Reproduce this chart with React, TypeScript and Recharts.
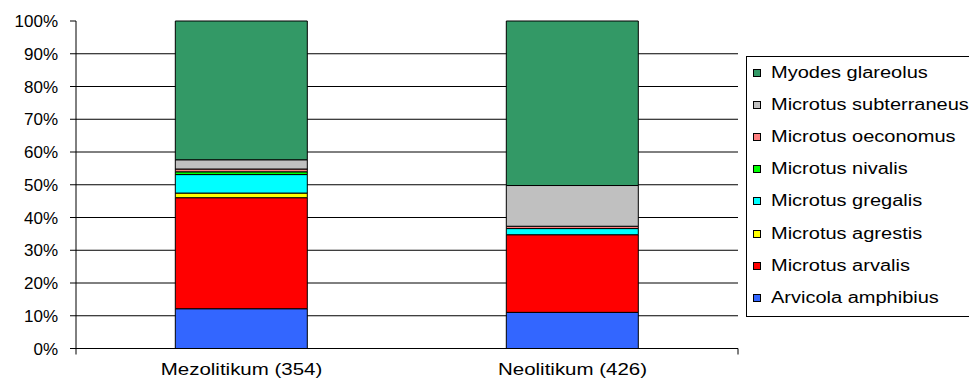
import {
  BarChart,
  Bar,
  XAxis,
  YAxis,
  CartesianGrid,
  ReferenceArea,
} from "recharts";

// Vole remains per period (counts); the chart shows each species' share.
const periods = ["Mezolitikum (354)", "Neolitikum (426)"];
const arvicolaAmphibius = [43, 47];
const microtusArvalis = [120, 101];
const microtusAgrestis = [5, 0];
const microtusGregalis = [20, 8];
const microtusNivalis = [3, 0];
const microtusOeconomus = [3, 3];
const microtusSubterraneus = [10, 53];
const myodesGlareolus = [150, 214];

const yTicks = [0, 0.1, 0.2, 0.3, 0.4, 0.5, 0.6, 0.7, 0.8, 0.9, 1];

// bottom of the stack first
const SERIES = [
  { key: "arvicola", name: "Arvicola amphibius", color: "#3366FF", values: arvicolaAmphibius },
  { key: "arvalis", name: "Microtus arvalis", color: "#FF0000", values: microtusArvalis },
  { key: "agrestis", name: "Microtus agrestis", color: "#FFFF00", values: microtusAgrestis },
  { key: "gregalis", name: "Microtus gregalis", color: "#00FFFF", values: microtusGregalis },
  { key: "nivalis", name: "Microtus nivalis", color: "#00FF00", values: microtusNivalis },
  { key: "oeconomus", name: "Microtus oeconomus", color: "#FF8080", values: microtusOeconomus },
  { key: "subterraneus", name: "Microtus subterraneus", color: "#C0C0C0", values: microtusSubterraneus },
  { key: "myodes", name: "Myodes glareolus", color: "#339966", values: myodesGlareolus },
];

const data = periods.map((period, i) => {
  const row: Record<string, string | number> = { period };
  SERIES.forEach((s) => {
    row[s.key] = s.values[i];
  });
  return row;
});

const FONT = "'Liberation Sans', Arial, sans-serif";

// axis ids: "a" carries the between-category tick marks, "b" the labels
const FRAME_AXIS = "a";
const CAT_AXIS = "b";

function CategoryTick({ x, y, payload }: any) {
  return (
    <text
      transform={`translate(${x},${y}) scale(1.28,1)`}
      textAnchor="middle"
      dy="0.71em"
      fontSize={16}
      fill="#000"
    >
      {payload.value}
    </text>
  );
}

function SpeciesLegend() {
  const items = [...SERIES].reverse();
  return (
    <div
      style={{
        position: "absolute",
        left: 738,
        top: 48,
        width: 230,
        height: 261,
        border: "1px solid #000",
        boxSizing: "border-box",
        background: "#fff",
      }}
    >
      {items.map((s, i) => (
        <div
          key={s.key}
          style={{
            position: "absolute",
            left: 6,
            top: i * 32.1,
            height: 32,
            display: "flex",
            alignItems: "center",
            whiteSpace: "nowrap",
          }}
        >
          <span
            style={{
              width: 8,
              height: 8,
              border: "1px solid #000",
              background: s.color,
              boxSizing: "border-box",
              display: "inline-block",
            }}
          />
          <span
            style={{
              marginLeft: 10,
              fontSize: 16,
              color: "#000",
              transform: "scaleX(1.25)",
              transformOrigin: "left center",
              display: "inline-block",
            }}
          >
            {s.name}
          </span>
        </div>
      ))}
    </div>
  );
}

export default function App() {
  return (
    <div style={{ position: "relative", width: 969, height: 379, fontFamily: FONT }}>
      <BarChart
        width={969}
        height={379}
        data={data}
        stackOffset="expand"
        barCategoryGap="30%"
        margin={{ top: 13, right: 239, bottom: 0, left: 0 }}
      >
        <CartesianGrid
          xAxisId={FRAME_AXIS}
          vertical={false}
          stroke="#000"
          horizontalValues={yTicks.filter((v) => v < 1)}
        />
        <ReferenceArea
          xAxisId={FRAME_AXIS}
          x1={0}
          x2={2}
          y1={0}
          y2={1}
          fill="none"
          stroke="#808080"
          fillOpacity={0}
        />
        <XAxis
          xAxisId={CAT_AXIS}
          dataKey="period"
          height={31.5}
          axisLine={false}
          tickLine={false}
          tickMargin={2}
          tick={<CategoryTick />}
        />
        <XAxis
          xAxisId={FRAME_AXIS}
          type="number"
          domain={[0, 2]}
          ticks={[0, 1, 2]}
          interval={0}
          height={7}
          tickSize={6}
          tickFormatter={() => ""}
          axisLine={{ stroke: "#000" }}
          tickLine={{ stroke: "#000" }}
        />
        <YAxis
          type="number"
          domain={[0, 1]}
          ticks={yTicks}
          interval={0}
          width={68}
          tickSize={6}
          tickMargin={12}
          tickFormatter={(v: number) => `${Math.round(v * 100)}%`}
          tick={{ fontSize: 17, fill: "#000" }}
          axisLine={{ stroke: "#000" }}
          tickLine={{ stroke: "#000" }}
        />
        {SERIES.map((s) => (
          <Bar
            key={s.key}
            xAxisId={CAT_AXIS}
            dataKey={s.key}
            name={s.name}
            stackId="voles"
            fill={s.color}
            stroke="#000"
            strokeWidth={1}
            isAnimationActive={false}
          />
        ))}
      </BarChart>
      <SpeciesLegend />
    </div>
  );
}
